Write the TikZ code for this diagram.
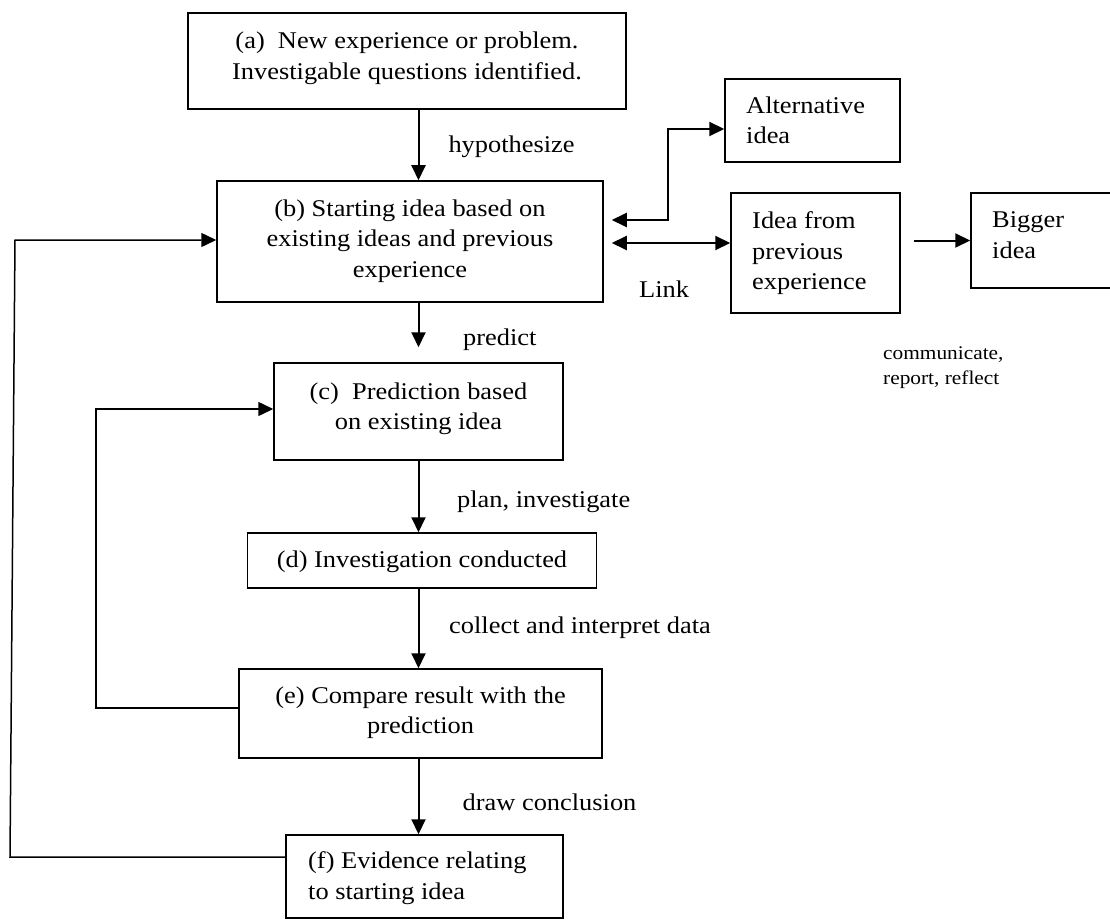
\documentclass[tikz,border=0pt]{standalone}
\usepackage{fontspec}
\setmainfont{Liberation Serif}[FakeStretch=1.1]
\usetikzlibrary{arrows.meta}
\begin{document}
\begin{tikzpicture}[x=1pt,y=-1pt,
  box/.style={draw, line width=1.5pt, rectangle, inner sep=0pt},
  lbl/.style={inner sep=0pt, font=\fontsize{24}{30.5}\selectfont},
  small/.style={inner sep=0pt, font=\fontsize{19.4}{25}\selectfont},
  tip/.tip={Triangle[length=15pt,width=14pt]},
  arr/.style={line width=2pt, -tip},
  dbl/.style={line width=2pt, tip-tip},
  loopar/.style={line width=1.5pt, -tip}]
\clip (0,0) rectangle (1110,920);
\fill[white] (0,0) rectangle (1110,920);

% boxes
\node[box,minimum width=438pt,minimum height=96pt] (a) at (407,61) {};
\node[box,minimum width=386pt,minimum height=121pt] (b) at (410,241.5) {};
\node[box,minimum width=175pt,minimum height=83pt] (alt) at (812.5,120.5) {};
\node[box,minimum width=169pt,minimum height=120pt] (idea) at (815.5,253) {};
\node[box,minimum width=144pt,minimum height=95pt] (big) at (1043,240.5) {};
\node[box,minimum width=289pt,minimum height=97pt] (c) at (418.5,411.5) {};
\node[box,minimum width=349pt,minimum height=55pt] (d) at (422,560.5) {};
\node[box,minimum width=363pt,minimum height=89pt] (e) at (420.5,713.5) {};
\node[box,minimum width=277pt,minimum height=83pt] (f) at (424.5,876.5) {};

% box texts
\node[lbl,align=center,anchor=north] (ta) at (407,32) {(a)\ \ New experience or problem.\\Investigable questions identified.};
\node[lbl,align=center,anchor=north] (tb) at (410,199.6) {(b) Starting idea based on\\existing ideas and previous\\experience};
\node[lbl,align=left,anchor=north west] (talt) at (746,96.6) {Alternative\\idea};
\node[lbl,align=left,anchor=north west] (tidea) at (752,211.6) {Idea from\\previous\\experience};
\node[lbl,align=left,anchor=north west] (tbig) at (992,211.9) {Bigger\\idea};
\node[lbl,align=center,anchor=north] (tc) at (418.5,382.6) {(c)\ \ Prediction based\\on existing idea};
\node[lbl,anchor=base] (td) at (422,567) {(d) Investigation conducted};
\node[lbl,align=center,anchor=north] (te) at (420.6,686.6) {(e) Compare result with the\\prediction};
\node[lbl,align=left,anchor=north west] (tf) at (308,851.6) {(f) Evidence relating\\to starting idea};

% connector labels
\node[lbl,anchor=base west] (lhyp) at (448.3,153) {hypothesize};
\node[lbl,anchor=base west] (lpred) at (463,345) {predict};
\node[lbl,anchor=base west] (lplan) at (457,507.5) {plan, investigate};
\node[lbl,anchor=base west] (lcoll) at (449,633.3) {collect and interpret data};
\node[lbl,anchor=base west] (ldraw) at (462.5,810.5) {draw conclusion};
\node[lbl,anchor=base west] (llink) at (639,297) {Link};
\node[small,align=left,anchor=north west] (lcomm) at (883,346.7) {communicate,\\report, reflect};

% main column
\coordinate (col) at (418.5,0);
\draw[arr] (a.south -| col) -- (b.north -| col);
\draw[arr, shorten >=15pt] (b.south -| col) -- (c.north -| col);
\draw[arr] (c.south -| col) -- (d.north -| col);
\draw[arr] (d.south -| col) -- (e.north -| col);
\draw[arr] (e.south -| col) -- (f.north -| col);

% right side links
\coordinate (altel) at (668,220);
\coordinate (altin) at (0,129);
\coordinate (lk) at (0,243);
\draw[dbl] ([xshift=8pt]b.east |- altel) -- (altel) |- (alt.west |- altin);
\draw[dbl] ([xshift=8pt]b.east |- lk) -- (idea.west |- lk);
\draw[arr] ([xshift=13pt]idea.east |- big.west) -- (big.west);

% feedback loops
\coordinate (ein) at (96,708);
\coordinate (cin) at (96,409);
\draw[loopar] (e.west |- ein) -- (ein) -- (cin) -- (c.west |- cin);
\coordinate (fo) at (10,857);
\coordinate (bo) at (15,240);
\draw[loopar] (f.west |- fo) -- (fo) -- (bo) -- (b.west |- bo);
\end{tikzpicture}
\end{document}
